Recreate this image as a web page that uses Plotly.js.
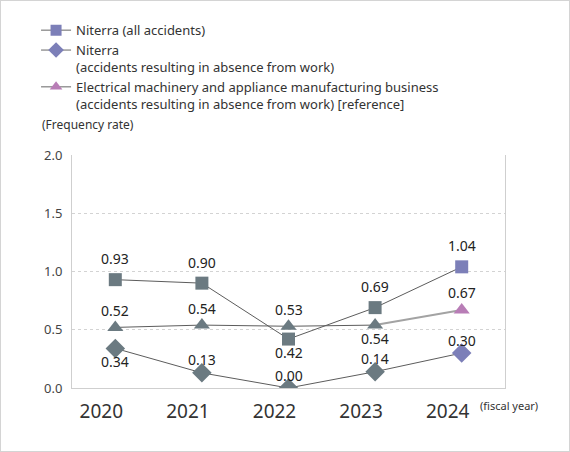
<!DOCTYPE html>
<html><head><meta charset="utf-8">
<script src="https://cdn.plot.ly/plotly-3.0.1.min.js"></script>
<style>
body{margin:0;background:#fff}
#wrap{position:relative;width:570px;height:452px}
#frame{position:absolute;left:0;top:0;width:568px;height:450px;border:1px solid #d4d4d4;pointer-events:none}
</style></head>
<body><div id="wrap"><div id="chart" style="width:570px;height:452px"></div><div id="frame"></div></div>
<script>
const years = ['2020','2021','2022','2023','2024'];
const allAccidents = [0.93, 0.90, 0.42, 0.69, 1.04];
const absence = [0.34, 0.13, 0.00, 0.14, 0.30];
const industryRef = [0.52, 0.54, 0.53, 0.54, 0.67];
const allPos = ['above','above','below','above','above'];
const absPos = ['below','above','above','above','above'];
const refPos = ['above','above','above','below','above'];
const seriesNames = [
  'Niterra (all accidents)',
  'Niterra<br>(accidents resulting in absence from work)',
  'Electrical machinery and appliance manufacturing business<br>(accidents resulting in absence from work) [reference]'
];

const FONT = 'Noto Sans, Arial, sans-serif';
const GRAY = '#6b7a81';
const PURPLE = '#7c7fb8';
const PINK = '#b87db6';
const LINE = '#5c5c5c';
const last = years.length - 1;
const colorsFor = c => years.map((_, i) => i === last ? c : GRAY);

const traces = [
  {x: years.slice(0, last), y: industryRef.slice(0, last), mode: 'lines', line: {color: LINE, width: 1}, showlegend: false, hoverinfo: 'skip'},
  {x: years.slice(last - 1), y: industryRef.slice(last - 1), mode: 'lines', line: {color: '#a3a3a3', width: 2}, showlegend: false, hoverinfo: 'skip'},
  {x: years, y: industryRef, mode: 'markers', marker: {symbol: 'triangle-up', size: 14, color: colorsFor(PINK)}, showlegend: false},
  {x: years, y: allAccidents, mode: 'lines+markers', line: {color: LINE, width: 1}, marker: {symbol: 'square', size: 13, color: colorsFor(PURPLE)}, showlegend: false},
  {x: years, y: absence, mode: 'lines+markers', line: {color: LINE, width: 1}, marker: {symbol: 'diamond', size: 15, color: colorsFor(PURPLE)}, showlegend: false},
  {x: [null], y: [null], name: seriesNames[0], mode: 'lines+markers', line: {color: '#666', width: 1}, marker: {symbol: 'square', size: 11, color: PURPLE}},
  {x: [null], y: [null], name: seriesNames[1], mode: 'lines+markers', line: {color: '#666', width: 1}, marker: {symbol: 'diamond', size: 12, color: PURPLE}},
  {x: [null], y: [null], name: seriesNames[2], mode: 'lines+markers', line: {color: '#666', width: 1}, marker: {symbol: 'triangle-up', size: 11, color: PINK}}
];

const annotations = [];
function addLabels(vals, pos, up) {
  vals.forEach((v, i) => {
    annotations.push({
      x: i, y: v, xref: 'x', yref: 'y', text: v.toFixed(2), showarrow: false,
      yshift: pos[i] === 'above' ? up : -13,
      font: {family: FONT, size: 14, color: '#222'}
    });
  });
}
addLabels(allAccidents, allPos, 21);
addLabels(industryRef, refPos, 17);
addLabels(absence, absPos, 13);

annotations.push({xref: 'paper', yref: 'paper', x: 0.937, y: -0.073, xanchor: 'left', yanchor: 'middle',
  text: '(fiscal year)', showarrow: false, font: {family: FONT, size: 11, color: '#333'}});
annotations.push({xref: 'paper', yref: 'paper', x: -0.074, y: 1.129, xanchor: 'left', yanchor: 'middle',
  text: '(Frequency rate)', showarrow: false, font: {family: FONT, size: 12, color: '#333'}});

const layout = {
  width: 570, height: 452,
  margin: {l: 72, r: 65, t: 155, b: 64, autoexpand: false},
  paper_bgcolor: '#fff', plot_bgcolor: '#fff',
  font: {family: FONT, color: '#333'},
  showlegend: true,
  legend: {x: -0.083, y: 1.60, xanchor: 'left', yanchor: 'top',
    font: {family: FONT, size: 13, color: '#333'}, valign: 'top', tracegroupgap: 0, itemwidth: 30, bgcolor: 'rgba(0,0,0,0)'},
  xaxis: {type: 'category', range: [-0.5, 4.5], showgrid: false, showline: true, linecolor: '#cfcfcf', linewidth: 1,
    ticks: '', tickfont: {family: FONT, size: 19, color: '#333'}, ticklabelstandoff: 6, ticklabelshift: -14, fixedrange: true},
  yaxis: {range: [0, 2], dtick: 0.5, tickformat: '.1f', showgrid: true, gridcolor: '#d3d3d3', griddash: '3px,3px', zeroline: false,
    showline: true, mirror: true, linecolor: '#cfcfcf', linewidth: 1, ticks: '',
    tickfont: {family: FONT, size: 13, color: '#444'}, ticklabelstandoff: 6, fixedrange: true},
  annotations: annotations
};

Plotly.newPlot('chart', traces, layout, {displayModeBar: false, staticPlot: true});
</script>
</body></html>
